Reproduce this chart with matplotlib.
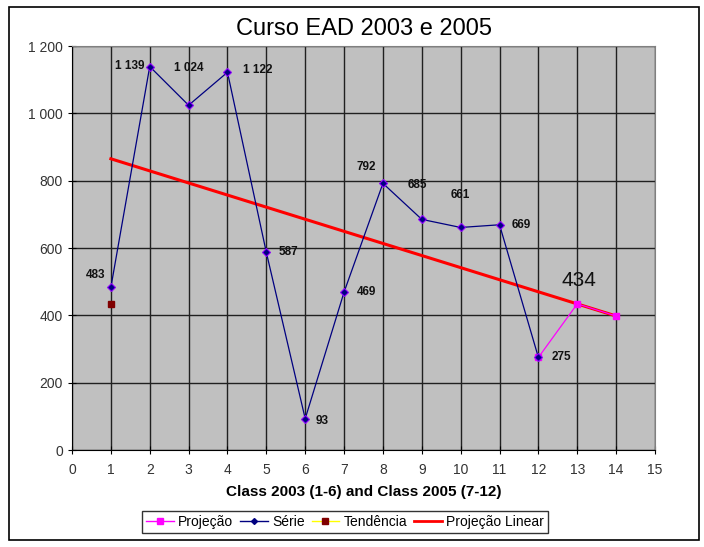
import matplotlib
matplotlib.use("Agg")
import matplotlib.pyplot as plt
from matplotlib.patches import Rectangle
from matplotlib.lines import Line2D

plt.rcParams['font.family'] = ['Liberation Sans', 'DejaVu Sans']

serie_x = [1, 2, 3, 4, 5, 6, 7, 8, 9, 10, 11, 12]
serie_y = [483, 1139, 1024, 1122, 587, 93, 469, 792, 685, 661, 669, 275]
proj_x = [12, 13, 14]
proj_y = [275, 434, 398]
tend_x = [1]
tend_y = [434]
lin_x = [1, 14]
lin_y = [865, 398]
label_texts = ["483", "1 139", "1 024", "1 122", "587", "93", "469", "792", "685", "661", "669", "275"]
label_offsets = [(-15, 12), (-20, 1), (0, 37), (30, 2), (22, 0), (17, -2), (22, 0), (-17, 16), (-4, 34), (0, 32), (22, 0), (23, 0)]
xticks = list(range(0, 16))
yticks = [0, 200, 400, 600, 800, 1000, 1200]
yticklabels = ["0", "200", "400", "600", "800", "1 000", "1 200"]

fig = plt.figure(figsize=(7.04, 5.47), dpi=100)
fig.patches.append(Rectangle((9/704, 7/547), 690/704, 533/547, transform=fig.transFigure,
                             fill=False, edgecolor='black', linewidth=1.2))
ax = fig.add_axes([72/704, 97/547, 583/704, 404/547])
ax.set_facecolor('#c0c0c0')
ax.set_xlim(0, 15)
ax.set_ylim(0, 1200)
ax.set_xticks(xticks)
ax.set_yticks(yticks)
ax.set_yticklabels(yticklabels)
ax.grid(True, color='#202020', linewidth=1.0)
ax.set_axisbelow(True)
for s in ['top', 'right']:
    ax.spines[s].set_color('#808080')
for s in ['left', 'bottom']:
    ax.spines[s].set_color('black')
ax.tick_params(axis='both', labelsize=10, colors='black', labelcolor='#333333', direction='inout', length=6)
ax.tick_params(axis='x', pad=6)

ax.plot(lin_x, lin_y, color='#ff0000', linewidth=2.2, zorder=3)
ax.plot(proj_x, proj_y, color='#ff00ff', linewidth=0.9, marker='s', markersize=5, zorder=4)
ax.plot(serie_x, serie_y, color='#000080', linewidth=0.9, marker='D', markersize=4.5,
        markerfacecolor='#000080', markeredgecolor='#9000ff', markeredgewidth=0.8, zorder=5)
ax.plot(tend_x, tend_y, linestyle='none', marker='s', markersize=5, color='#800000', zorder=5)

for x, y, t, off in zip(serie_x, serie_y, label_texts, label_offsets):
    ax.annotate(t, (x, y), xytext=off, textcoords='offset pixels', ha='center', va='center',
                fontsize=8.5, fontweight='bold', color='#111111')
ax.annotate(str(proj_y[1]), (proj_x[1], proj_y[1]), xytext=(2, 23), textcoords='offset pixels',
            ha='center', va='center', fontsize=15, color='#111111')

ax.set_title("Curso EAD 2003 e 2005", fontsize=17, pad=8)
ax.set_xlabel("Class 2003 (1-6) and Class 2005 (7-12)", fontsize=11, fontweight='bold', labelpad=6)

handles = [
    Line2D([], [], color='#ff00ff', marker='s', markersize=4, linewidth=1),
    Line2D([], [], color='#000080', marker='D', markersize=3, linewidth=1),
    Line2D([], [], color='#ffff00', marker='s', markersize=4, markerfacecolor='#800000',
           markeredgecolor='#800000', linewidth=1),
    Line2D([], [], color='#ff0000', linewidth=2),
]
leg = fig.legend(handles, ["Projeção", "Série", "Tendência", "Projeção Linear"], loc='center',
                 bbox_to_anchor=(345/704, 1 - 522/547), ncol=4, fontsize=10, frameon=True,
                 fancybox=False, edgecolor='black', handlelength=2.0, handletextpad=0.3,
                 columnspacing=0.5, borderpad=0.3)
leg.get_frame().set_linewidth(1.0)

fig.savefig("out.png", dpi=100)
